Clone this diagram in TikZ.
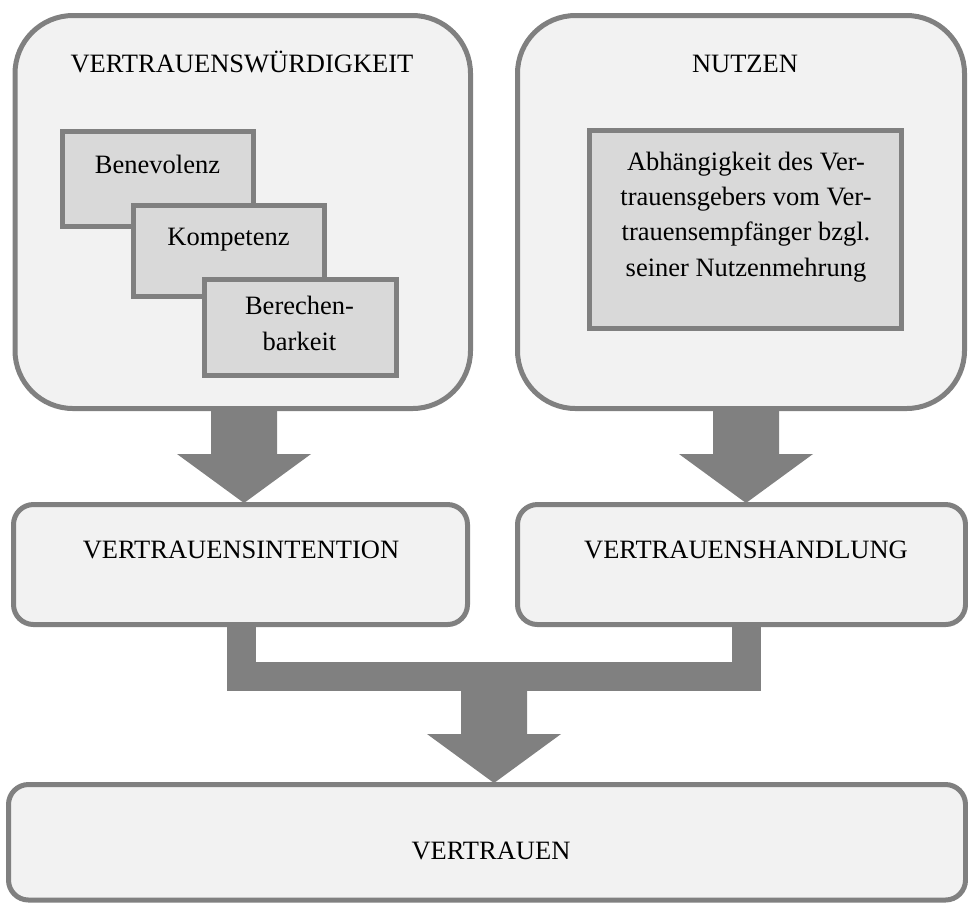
\documentclass[tikz,border=0pt]{standalone}
\usepackage{fontspec}
\setmainfont{Liberation Serif}
\usetikzlibrary{calc}

\definecolor{framegray}{HTML}{808080}
\definecolor{panelfill}{HTML}{F2F2F2}
\definecolor{itemfill}{HTML}{D9D9D9}

\tikzset{
  panel/.style={draw=framegray, fill=panelfill, line width=2.5pt,
                rounded corners=29pt, inner sep=0pt},
  stage/.style={panel, rounded corners=10pt},
  item/.style={draw=framegray, fill=itemfill, line width=2.5pt, inner sep=0pt},
  % anchored at the baseline of the last line
  txt/.style={font=\fontsize{13.25}{17.6}\selectfont, inner sep=0pt,
              anchor=base, align=center},
  flow/.style={fill=framegray},
  bracket/.style={draw=framegray, line width=14.5pt, line join=miter, line cap=butt},
}

% broad block arrow: shaft from #1 down to the tip #2
\newcommand\blockarrow[2]{%
  \fill[flow] let \p1=(#1), \p2=(#2) in
    (\x2-16.5pt,\y1) -- (\x2+16.5pt,\y1) -- (\x2+16.5pt,\y2+24.5pt)
    -- (\x2+33.5pt,\y2+24.5pt) -- (\x2,\y2) -- (\x2-33.5pt,\y2+24.5pt)
    -- (\x2-16.5pt,\y2+24.5pt) -- cycle;}

\begin{document}
\begin{tikzpicture}[x=0.5pt, y=-0.5pt]
\useasboundingbox (0,0) rectangle (968,902);

% upper panels
\node[panel, minimum width=227.75pt, minimum height=196.5pt] (wbox) at (242.75,212) {};
\node[panel, minimum width=223.5pt, minimum height=196.5pt] (nbox) at (741,212) {};
\node[txt] (wtitle) at (242,72) {VERTRAUENSWÜRDIGKEIT};
\node[txt] (ntitle) at (745,72) {NUTZEN};

% trustworthiness facets
\node[item, minimum width=95.5pt, minimum height=47.5pt] (benev) at (158,179) {};
\node[txt] (benevtxt) at (157.5,173) {Benevolenz};
\node[item, minimum width=95.5pt, minimum height=45.5pt] (kompe) at (229,251) {};
\node[txt] (kompetxt) at (228.5,245) {Kompetenz};
\node[item, minimum width=96pt, minimum height=48pt] (berech) at (300.5,327.5) {};
\node[txt] (berechtxt) at (299.5,350) {Berechen-\\barkeit};

% benefit
\node[item, minimum width=156pt, minimum height=99pt] (abh) at (745.5,229.5) {};
\node[txt] (abhtxt) at (746,276) {Abhängigkeit des Ver-\\trauensgebers vom Ver-\\trauensempfänger bzgl.\\seiner Nutzenmehrung};

% middle stages
\node[stage, minimum width=227pt, minimum height=60pt] (inten) at (240.5,564.5) {};
\node[stage, minimum width=224pt, minimum height=60pt] (handl) at (741.5,564.5) {};
\node[txt] (intentxt) at (241,558) {VERTRAUENSINTENTION};
\node[txt] (handltxt) at (746,558) {VERTRAUENSHANDLUNG};

% result
\node[stage, minimum width=478.5pt, minimum height=57.75pt] (vertr) at (487,842.25) {};
\node[txt] (vertrtxt) at (491,859) {VERTRAUEN};

% arrow tips and junction points
\coordinate (tipA) at (244,503);
\coordinate (tipB) at (746,503);
\coordinate (jl) at (241.5,676);
\coordinate (jr) at (746,676);
\coordinate (jc) at (494,676);
\coordinate (tipC) at (494,783);

\blockarrow{wbox.south -| tipA}{tipA}
\blockarrow{nbox.south -| tipB}{tipB}
\draw[bracket] (inten.south -| jl) -- (jl) -- (jr) -- (handl.south -| jr);
\blockarrow{jc}{tipC}
\end{tikzpicture}
\end{document}
